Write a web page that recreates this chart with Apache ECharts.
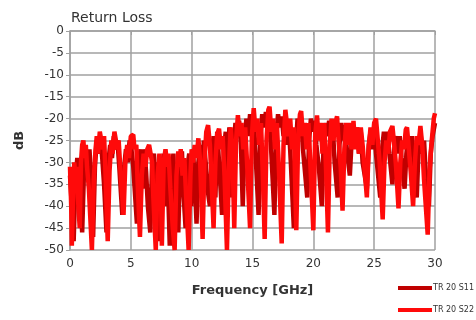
<!DOCTYPE html>
<html>
<head>
<meta charset="utf-8">
<script src="https://cdn.jsdelivr.net/npm/echarts@6/dist/echarts.min.js"></script>
<style>
  html, body { margin: 0; padding: 0; background: #fff; }
  #chart { width: 476px; height: 320px; }
</style>
</head>
<body>
<div id="chart"></div>
<script>
// [GHz, dB]
const s22 = [
  [0, -31], [0.1, -40], [0.15, -49], [0.25, -38], [0.35, -30], [0.45, -34], [0.55, -31], [0.65, -38], [0.8, -45],
  [0.9, -30], [1.0, -26], [1.1, -25], [1.2, -29], [1.3, -26], [1.4, -31], [1.55, -36], [1.8, -50],
  [1.95, -34], [2.1, -27], [2.2, -24], [2.3, -28], [2.45, -23], [2.6, -22.6], [2.7, -27], [2.8, -24], [2.9, -31], [3.1, -48],
  [3.25, -32], [3.4, -25], [3.5, -28], [3.65, -23], [3.8, -22.6], [3.9, -27], [4.0, -25], [4.15, -32], [4.4, -42],
  [4.55, -30], [4.7, -26], [4.85, -29], [5.0, -24], [5.2, -23.7], [5.3, -27], [5.45, -26], [5.55, -34], [5.75, -47],
  [5.9, -33], [6.05, -28], [6.2, -31], [6.35, -27], [6.5, -26], [6.6, -25.6], [6.75, -30], [6.85, -38], [7.05, -50],
  [7.2, -33], [7.35, -28], [7.45, -32], [7.55, -49], [7.7, -30], [7.85, -27], [8.0, -31], [8.1, -28], [8.25, -36], [8.45, -45], [8.6, -50],
  [8.75, -33], [8.9, -27.5], [9.0, -31], [9.1, -27], [9.25, -33], [9.4, -29], [9.55, -38], [9.75, -50],
  [9.9, -33], [10.0, -27], [10.1, -30], [10.25, -26], [10.4, -29], [10.55, -24.5], [10.7, -30], [10.9, -47.5],
  [11.05, -30], [11.2, -23], [11.35, -21.5], [11.5, -26], [11.6, -32], [11.8, -45],
  [11.95, -30], [12.1, -23.5], [12.25, -22.3], [12.4, -27], [12.55, -24], [12.7, -33], [12.9, -50],
  [13.05, -32], [13.2, -22], [13.35, -27], [13.5, -45], [13.65, -25], [13.8, -19.2], [13.95, -24], [14.1, -21], [14.25, -27], [14.4, -22], [14.55, -30], [14.8, -45],
  [14.95, -24], [15.1, -17.6], [15.25, -23], [15.4, -20], [15.55, -26], [15.7, -21], [15.85, -33], [16.0, -47.5],
  [16.15, -25], [16.3, -18], [16.4, -17.3], [16.55, -23], [16.7, -20], [16.85, -27], [17.0, -21], [17.15, -30], [17.4, -48.5],
  [17.55, -26], [17.7, -18], [17.8, -17.6], [17.95, -24], [18.1, -20], [18.25, -27], [18.4, -22], [18.6, -45.5],
  [18.75, -25], [18.9, -19], [19.0, -18.3], [19.15, -24], [19.3, -21], [19.45, -27], [19.6, -21], [19.8, -33], [20.0, -45.5],
  [20.15, -24], [20.3, -19.3], [20.45, -25], [20.6, -21], [20.75, -28], [20.9, -21], [21.05, -32], [21.2, -46],
  [21.35, -26], [21.5, -20], [21.65, -25], [21.8, -21], [21.95, -19.5], [22.1, -26], [22.25, -31], [22.4, -41],
  [22.55, -27], [22.7, -21], [22.85, -26], [23.0, -21], [23.15, -27], [23.3, -20.5], [23.45, -27], [23.6, -22], [23.75, -28], [23.9, -22], [24.05, -26], [24.2, -31], [24.4, -38],
  [24.55, -27], [24.7, -22], [24.85, -26], [25.0, -21], [25.15, -20], [25.3, -25], [25.45, -30], [25.7, -43],
  [25.85, -30], [26.0, -25], [26.15, -28], [26.3, -23], [26.5, -21.7], [26.65, -26], [26.8, -31], [27.0, -40.5],
  [27.15, -30], [27.3, -25], [27.45, -27], [27.6, -22.5], [27.7, -22], [27.85, -27], [28.0, -32], [28.2, -40],
  [28.35, -30], [28.5, -24], [28.65, -26], [28.8, -21.7], [28.95, -26], [29.1, -34], [29.4, -46.5],
  [29.55, -32], [29.7, -26], [29.8, -23], [29.9, -20], [30.0, -18.8],
]

const s11 = [
  [0, -33], [0.15, -40], [0.3, -48], [0.45, -34], [0.6, -29], [0.75, -33], [0.85, -38], [1.0, -46],
  [1.15, -32], [1.3, -27], [1.45, -30], [1.6, -27], [1.75, -34], [1.9, -47],
  [2.05, -31], [2.2, -25], [2.35, -28], [2.5, -24], [2.65, -29], [2.8, -35], [3.0, -46],
  [3.15, -30], [3.3, -26], [3.45, -29], [3.6, -24], [3.75, -27], [3.9, -25], [4.05, -31], [4.3, -42],
  [4.45, -31], [4.6, -27], [4.75, -30], [4.9, -25], [5.05, -27], [5.2, -31], [5.5, -44],
  [5.65, -31], [5.8, -27], [5.95, -36], [6.1, -27], [6.25, -32], [6.4, -40], [6.6, -46],
  [6.75, -30], [6.9, -28], [7.05, -38], [7.2, -30], [7.4, -48],
  [7.55, -32], [7.7, -28], [7.85, -40], [8.0, -30], [8.2, -49],
  [8.35, -32], [8.5, -28], [8.65, -42], [8.8, -32], [8.9, -46],
  [9.05, -30], [9.2, -27.5], [9.35, -38], [9.5, -45],
  [9.65, -31], [9.8, -28], [9.95, -40], [10.1, -27], [10.25, -34], [10.4, -44],
  [10.55, -30], [10.7, -26], [10.85, -38], [11.0, -25], [11.15, -30], [11.3, -36], [11.5, -40],
  [11.65, -28], [11.8, -24], [11.95, -38], [12.1, -23], [12.25, -30], [12.5, -42],
  [12.65, -27], [12.8, -23], [12.95, -33], [13.1, -22], [13.3, -38],
  [13.45, -26], [13.6, -21], [13.75, -24], [13.9, -20.5], [14.05, -26], [14.2, -40],
  [14.35, -25], [14.5, -20], [14.65, -24], [14.8, -19], [14.95, -23], [15.1, -20], [15.25, -28], [15.5, -42],
  [15.65, -24], [15.8, -19], [15.95, -22], [16.1, -18.5], [16.25, -23], [16.4, -20], [16.55, -28], [16.8, -42],
  [16.95, -24], [17.1, -19], [17.25, -22], [17.4, -19.5], [17.55, -24], [17.7, -20], [17.85, -26], [18.0, -22], [18.15, -30], [18.4, -45],
  [18.55, -27], [18.7, -20], [18.85, -24], [19.0, -20], [19.15, -27], [19.5, -38],
  [19.65, -25], [19.8, -20], [19.95, -23], [20.1, -20.5], [20.25, -26], [20.45, -31], [20.7, -40],
  [20.85, -25], [21.0, -21], [21.15, -24], [21.3, -20.5], [21.45, -25], [21.6, -22], [21.75, -30], [22.0, -38],
  [22.15, -26], [22.3, -21], [22.45, -25], [22.6, -21.5], [22.75, -27], [23.0, -33],
  [23.15, -25], [23.3, -22], [23.45, -26], [23.6, -22], [23.75, -28], [23.9, -23], [24.05, -30], [24.4, -36],
  [24.55, -26], [24.7, -23], [24.85, -27], [25.0, -22], [25.15, -28], [25.5, -38],
  [25.65, -27], [25.8, -23], [25.95, -27], [26.1, -23], [26.25, -28], [26.5, -35],
  [26.65, -27], [26.8, -24], [26.95, -28], [27.1, -24], [27.25, -29], [27.5, -36],
  [27.65, -28], [27.8, -24], [27.95, -28], [28.1, -24], [28.25, -30], [28.5, -38],
  [28.65, -27], [28.8, -23], [28.95, -28], [29.1, -25], [29.25, -33], [29.5, -40],
  [29.65, -28], [29.8, -24], [30.0, -21],
]

const seriesNames = ["TR 20 S11", "TR 20 S22"]
const seriesColors = ["#c00000", "#ff0a0a"]

const chart = echarts.init(document.getElementById("chart"))

const axisText = { color: "#333", fontSize: 12, fontFamily: "DejaVu Sans" }
const gridLine = { lineStyle: { color: "#a0a0a0", width: 1.5 } }

chart.setOption({
  animation: false,
  backgroundColor: "#fff",
  title: {
    text: "Return Loss",
    left: 66,
    top: 6,
    textStyle: { color: "#333", fontSize: 14, fontWeight: "normal", fontFamily: "DejaVu Sans" },
  },
  legend: {
    orient: "vertical",
    left: 393,
    top: 279,
    itemGap: 14,
    itemWidth: 34,
    itemHeight: 4,
    icon: "rect",
    textStyle: { color: "#333", fontSize: 8, fontFamily: "DejaVu Sans", padding: [0, 0, 0, -4] },
    data: seriesNames,
  },
  grid: { left: 70, right: 41, top: 31, bottom: 70 },
  xAxis: {
    type: "value",
    min: 0,
    max: 30,
    interval: 5,
    name: "Frequency [GHz]",
    nameLocation: "middle",
    nameGap: 34,
    nameTextStyle: { color: "#333", fontSize: 13, fontWeight: "bold", fontFamily: "DejaVu Sans" },
    axisLine: { lineStyle: { color: "#a0a0a0", width: 1.5 } },
    axisTick: { show: true, length: 4, lineStyle: { color: "#a0a0a0" } },
    axisLabel: { ...axisText, margin: 8 },
    splitLine: gridLine,
  },
  yAxis: {
    type: "value",
    min: -50,
    max: 0,
    interval: 5,
    name: "dB",
    nameLocation: "middle",
    nameGap: 44,
    nameRotate: 90,
    nameTextStyle: { color: "#333", fontSize: 13, fontWeight: "bold", fontFamily: "DejaVu Sans" },
    axisLine: { show: true, lineStyle: { color: "#a0a0a0", width: 1.5 } },
    axisTick: { show: true, length: 4, lineStyle: { color: "#a0a0a0" } },
    axisLabel: { ...axisText, margin: 6 },
    splitLine: gridLine,
  },
  series: [
    {
      name: seriesNames[0],
      type: "line",
      data: s11,
      showSymbol: false,
      color: seriesColors[0],
      lineStyle: { width: 4.5, color: seriesColors[0] },
    },
    {
      name: seriesNames[1],
      type: "line",
      data: s22,
      showSymbol: false,
      color: seriesColors[1],
      lineStyle: { width: 4.5, color: seriesColors[1] },
    },
  ],
})
</script>
</body>
</html>
